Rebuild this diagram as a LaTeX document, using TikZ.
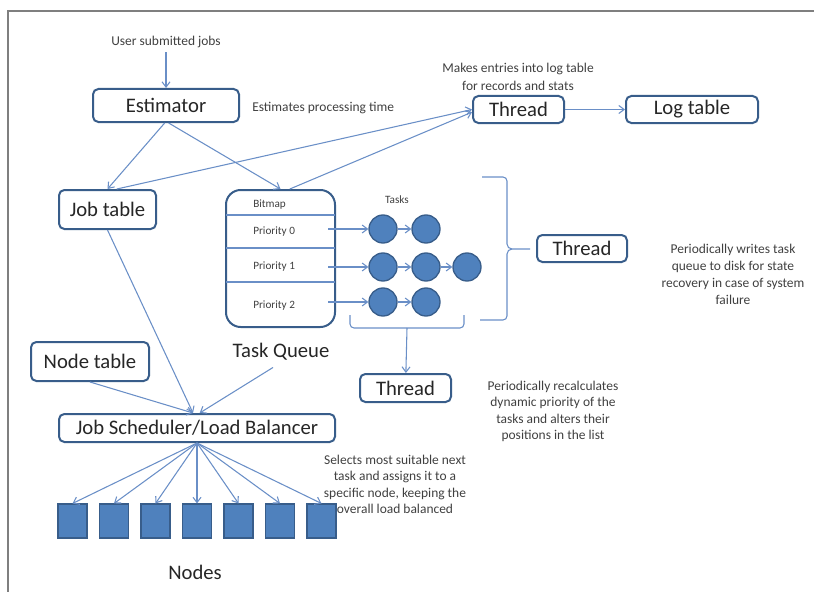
\documentclass[tikz,border=0pt]{standalone}
\usepackage{fontspec}
\setmainfont{Carlito}
\usetikzlibrary{arrows.meta}
\definecolor{bdr}{HTML}{385D8A}
\definecolor{arrc}{HTML}{6A8FC7}
\definecolor{fillc}{HTML}{4F81BD}
\definecolor{txt}{HTML}{262626}
\definecolor{ann}{HTML}{404040}
\definecolor{frm}{HTML}{7F7F7F}
\begin{document}
\begin{tikzpicture}[x=0.75pt,y=-0.75pt,
  box/.style={draw=bdr,line width=1.5pt,rounded corners=4pt,fill=white,inner sep=0pt,font=\fontsize{15.5}{18}\selectfont,text=txt},
  lbl/.style={inner sep=0pt,font=\fontsize{15.5}{18}\selectfont,text=txt},
  arr/.style={draw=arrc,line width=0.8pt,-{Straight Barb[length=4pt,width=6pt]}},
  ln/.style={draw=arrc,line width=0.8pt},
  note/.style={font=\fontsize{10.1}{12.4}\selectfont,text=ann,align=center,inner sep=0pt},
  small/.style={font=\fontsize{8.4}{10}\selectfont,text=ann,inner sep=0pt},
  task/.style={circle,fill=fillc,draw=bdr,line width=1pt,minimum size=21pt,inner sep=0pt},
  cnode/.style={rectangle,fill=fillc,draw=bdr,line width=0.8pt,minimum width=21.75pt,minimum height=25.5pt,inner sep=0pt},
]
\useasboundingbox (0,0) rectangle (814,592);
\draw[frm,line width=1.5pt] (7.5,592) -- (7.5,11.5) -- (814,11.5);

% top part
\node[note] (usj) at (166,42) {User submitted jobs};
\node[box,minimum width=109.5pt,minimum height=24.75pt] (est) at (166,105.5) {Estimator};
\node[note,anchor=west] (ept) at (252,108) {Estimates processing time};
\node[box,minimum width=72.75pt,minimum height=29.25pt] (jt) at (107.5,209.5) {Job table};
\node[box,rounded corners=11pt,minimum width=81.75pt,minimum height=102.75pt] (tq) at (280.5,258.5) {};
\draw[ln] (226,215) -- (335,215);
\draw[ln] (226,248) -- (335,248);
\draw[ln] (226,282) -- (335,282);
\node[small,anchor=west] (bm) at (253,205) {Bitmap};
\node[small,anchor=west] (pr0) at (253,232) {Priority 0};
\node[small,anchor=west] (pr1) at (253,267) {Priority 1};
\node[small,anchor=west] (pr2) at (253,306) {Priority 2};
\node[small] (tk) at (397,200) {Tasks};

\node[note] (me) at (518,77) {Makes entries into log table\\[1pt]for records and stats};
\node[box,minimum width=68.25pt,minimum height=20.25pt] (thr) at (518.5,109.5) {Thread};
\node[box,minimum width=99pt,minimum height=20.25pt] (lt) at (692,109.5) {Log table};

% tasks
\node[task] (c00) at (383,229) {};
\node[task] (c01) at (426,229) {};
\node[task] (c10) at (383,267) {};
\node[task] (c11) at (426,267) {};
\node[task] (c12) at (467,267) {};
\node[task] (c20) at (383,302) {};
\node[task] (c21) at (426,302) {};
\coordinate (p0) at (328,229);
\coordinate (p1) at (328,267);
\coordinate (p2) at (328,302);
\draw[arr] (p0) -- (c00);
\draw[arr] (p1) -- (c10);
\draw[arr] (p2) -- (c20);
\draw[arr] (c00) -- (c01);
\draw[arr] (c10) -- (c11);
\draw[arr] (c11) -- (c12);
\draw[arr] (c20) -- (c21);

% right brace and thread
\draw[ln] (482,177) -- (503,177) to[out=0,in=90] (507,181) -- (507,244) to[out=-90,in=180] (512,249) -- (530,249);
\draw[ln] (512,249) to[out=180,in=90] (507,254) -- (507,316) to[out=-90,in=0] (503,320) -- (480,320);
\node[box,minimum width=67.5pt,minimum height=20.25pt] (thm) at (582,248.5) {Thread};
\node[note,font=\fontsize{10.1}{12.75}\selectfont] (pw) at (733,274) {Periodically writes task\\queue to disk for state\\recovery in case of system\\failure};

% bottom bracket and thread
\draw[ln] (350,315) -- (350,324) to[out=-90,in=180] (354,328) -- (460,328) to[out=0,in=-90] (464,324) -- (464,315);
\coordinate (bb) at (407,328);
\node[box,minimum width=68.25pt,minimum height=21pt] (thb) at (405.5,388) {Thread};
\draw[arr] (bb) -- (thb);
\node[note,font=\fontsize{10.1}{12.25}\selectfont] (pr) at (553,411.5) {Periodically recalculates\\dynamic priority of the\\tasks and alters their\\positions in the list};

% scheduler
\node[lbl] (tql) at (281,352) {Task Queue};
\node[box,minimum width=88.5pt,minimum height=29.25pt] (nt) at (90,361.5) {Node table};
\node[box,minimum width=207pt,minimum height=21pt] (sch) at (197,428) {Job Scheduler/Load Balancer};
\node[note,font=\fontsize{10.1}{12.25}\selectfont] (sel) at (395,484.5) {Selects most suitable next\\task and assigns it to a\\specific node, keeping the\\overall load balanced};

\foreach \i/\x in {1/72.5,2/114,3/155.5,4/197,5/238.5,6/280,7/321.5}{
  \node[cnode] (n\i) at (\x,521) {};
}
\node[lbl] (nds) at (195,572) {Nodes};

% connectors
\draw[arr,shorten <=3pt] (usj) -- (est);
\draw[arr] ([xshift=-1pt]est.south) -- (jt.north);
\draw[arr] ([xshift=2pt]est.south) -- (tq.north);
\draw[arr] ([xshift=7pt]jt.north) -- (thr.west);
\draw[arr] ([xshift=7pt]tq.north) -- ([yshift=-2pt]thr.west);
\draw[arr] (thr) -- (lt);
\draw[arr] (jt.south) -- ([xshift=-3pt]sch.north);
\draw[arr] (nt.south) -- ([xshift=-3pt]sch.north);
\draw[arr] ([xshift=-6pt,yshift=-5pt]tql.south) -- ([xshift=2pt]sch.north);
\foreach \i in {1,...,7}{
  \draw[arr] (sch.south) -- (n\i.north);
}
\end{tikzpicture}
\end{document}
